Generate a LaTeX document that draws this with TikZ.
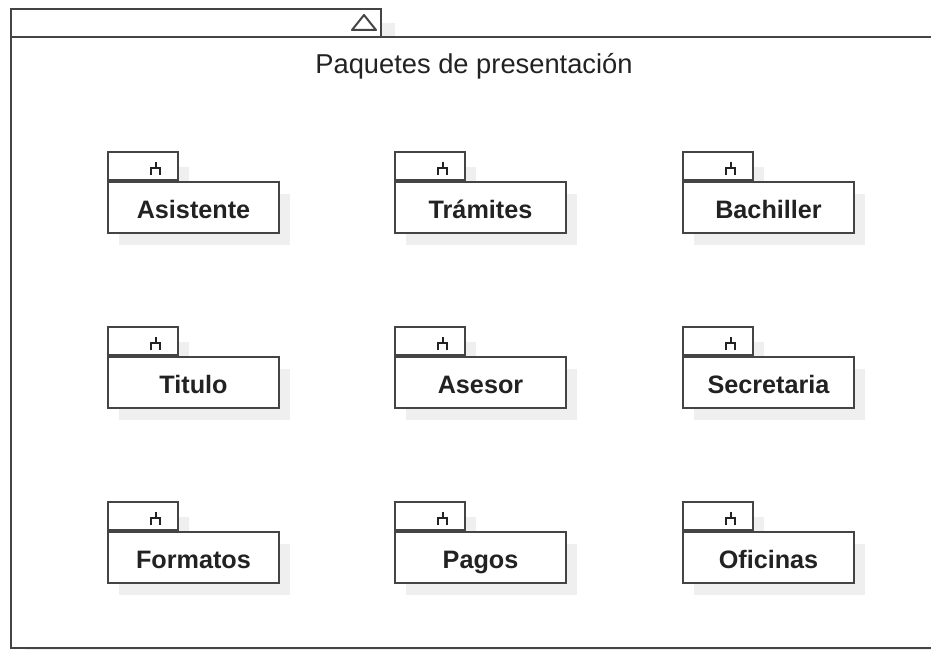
\documentclass[tikz,border=0pt]{standalone}
\usepackage{fontspec}
\setmainfont{Liberation Sans}
\definecolor{lc}{HTML}{444444}
\definecolor{shc}{HTML}{EFEFEF}
\definecolor{tc}{HTML}{222222}
\begin{document}
\begin{tikzpicture}[x=1pt,y=-1pt,
  framebox/.style={draw=lc,line width=2pt,fill=white},
  tabbox/.style={draw=lc,line width=2pt,fill=white,minimum width=70pt,minimum height=28pt,inner sep=0pt,anchor=south west},
  bodybox/.style={draw=lc,line width=2pt,fill=white,minimum width=171pt,minimum height=51pt,inner sep=0pt,anchor=north west,text=tc,text height=24pt,text depth=3pt,font=\fontsize{25.2}{28}\selectfont\bfseries},
  icon/.style={draw=tc,line width=2pt},
  titletext/.style={text=tc,anchor=base,font=\fontsize{27.3}{30}\selectfont}]
\useasboundingbox (0,0) rectangle (931,650);
\begin{scope}
\clip (0,0) rectangle (931,650);
% frame shadow
\fill[shc] (25,23) rectangle (395,51);
\fill[shc] (25,51) rectangle (960,662);
% frame
\draw[framebox] (11,9) rectangle (381,37);
\draw[framebox] (11,37) rectangle (960,648);
\draw[draw=lc,line width=2pt,line join=round] (352,30) -- (364,15) -- (376,30) -- cycle;
\end{scope}
\node[titletext] (title) at (474,74) {Paquetes de presentación};
% packages
\foreach \px/\py/\nm/\lab in {107/153/a/Asistente, 394/153/b/Trámites, 682/153/c/Bachiller,
  107/328/d/Titulo, 394/328/e/Asesor, 682/328/f/Secretaria,
  107/503/g/Formatos, 394/503/h/Pagos, 682/503/i/Oficinas}{
  \fill[shc] (\px+12,\py+14) rectangle (\px+70+12,\py+28+14);
  \fill[shc] (\px+12,\py+28+13) rectangle (\px+171+12,\py+79+13);
  \node[tabbox] (tab\nm) at (\px,\py+28) {};
  \node[bodybox] (pkg\nm) at (\px,\py+28) {\lab};
  \draw[icon] (\px+48.5,\py+9) -- (\px+48.5,\py+15)
              (\px+44,\py+22) -- (\px+44,\py+15) -- (\px+53,\py+15) -- (\px+53,\py+22);
}
\end{tikzpicture}
\end{document}
